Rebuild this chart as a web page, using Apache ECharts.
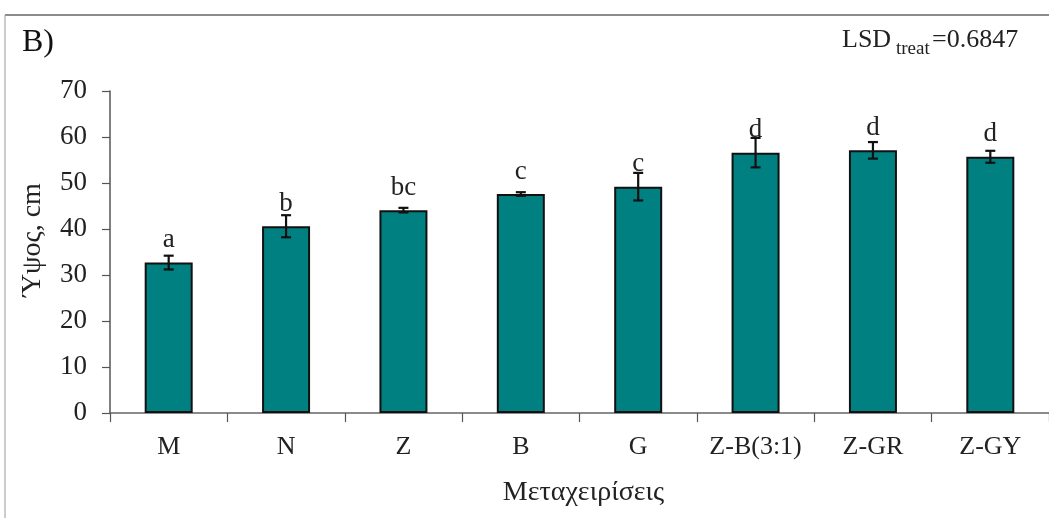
<!DOCTYPE html>
<html>
<head>
<meta charset="utf-8">
<script src="https://cdn.jsdelivr.net/npm/echarts@6/dist/echarts.min.js"></script>
<style>html,body{margin:0;padding:0;background:#fff}#c{width:1049px;height:518px}</style>
</head>
<body>
<div id="c"></div>
<script>
var categories = ['M', 'N', 'Z', 'B', 'G', 'Z-B(3:1)', 'Z-GR', 'Z-GY'];
var heights = [32.7, 40.6, 44.1, 47.6, 49.2, 56.6, 57.1, 55.7];
var errors = [1.5, 2.4, 0.5, 0.4, 3.0, 3.2, 1.8, 1.3];
var letters = ['a', 'b', 'bc', 'c', 'c', 'd', 'd', 'd'];
var yTicks = [0, 10, 20, 30, 40, 50, 60, 70];

var FONT = '"Liberation Serif", "DejaVu Serif", serif';
var chart = echarts.init(document.getElementById('c'), null, {renderer: 'canvas'});

var errData = heights.map(function (h, i) { return [i, h - errors[i], h + errors[i]]; });

chart.setOption({
  animation: false,
  backgroundColor: '#fff',
  grid: {left: 110, right: 0, top: 91, bottom: 105, containLabel: false},
  xAxis: {
    type: 'category',
    data: categories,
    name: 'Μεταχειρίσεις',
    nameLocation: 'middle',
    nameGap: 66,
    nameTextStyle: {fontFamily: FONT, fontSize: 28, color: '#222', padding: [0, 0, 0, 8]},
    axisLine: {lineStyle: {color: '#666', width: 1.5}},
    axisTick: {show: true, interval: 0, length: 9, alignWithLabel: false, lineStyle: {color: '#555', width: 1.2}},
    axisLabel: {interval: 0, fontFamily: FONT, fontSize: 26, color: '#222', margin: 21}
  },
  yAxis: {
    type: 'value',
    min: 0, max: 70, interval: 10,
    name: 'Ύψος, cm',
    nameLocation: 'middle',
    nameGap: 63,
    nameRotate: 90,
    nameTextStyle: {fontFamily: FONT, fontSize: 28, color: '#222', padding: [0, 0, 0, 24]},
    axisLine: {show: true, lineStyle: {color: '#555', width: 1.5}},
    axisTick: {show: true, length: 8, lineStyle: {color: '#555', width: 1.2}},
    axisLabel: {fontFamily: FONT, fontSize: 27, color: '#222', margin: 23,
      formatter: function (v) { return yTicks.indexOf(v) >= 0 ? String(v) : ''; }},
    splitLine: {show: false}
  },
  series: [
    {
      type: 'bar',
      data: heights,
      barWidth: 48,
      itemStyle: {color: '#008080', borderColor: '#111', borderWidth: 2},
      label: {
        show: true, position: 'top', distance: 9,
        fontFamily: FONT, fontSize: 27, color: '#222',
        formatter: function (p) { return letters[p.dataIndex]; }
      }
    },
    {
      type: 'custom',
      data: errData,
      z: 10,
      renderItem: function (params, api) {
        var i = api.value(0);
        var lo = api.coord([i, api.value(1)]);
        var hi = api.coord([i, api.value(2)]);
        var w = 5;
        var st = {stroke: '#111', lineWidth: 2.2};
        return {type: 'group', children: [
          {type: 'line', shape: {x1: lo[0], y1: lo[1], x2: hi[0], y2: hi[1]}, style: st},
          {type: 'line', shape: {x1: lo[0] - w, y1: lo[1], x2: lo[0] + w, y2: lo[1]}, style: st},
          {type: 'line', shape: {x1: hi[0] - w, y1: hi[1], x2: hi[0] + w, y2: hi[1]}, style: st}
        ]};
      }
    }
  ],
  graphic: [
    {type: 'line', shape: {x1: 5, y1: 15, x2: 1049, y2: 15}, style: {stroke: '#666', lineWidth: 1.5}},
    {type: 'line', shape: {x1: 5, y1: 15, x2: 5, y2: 518}, style: {stroke: '#aaa', lineWidth: 1.2}},
    {type: 'text', x: 22, y: 27, style: {text: 'B)', font: '32px ' + FONT, fill: '#111'}},
    {type: 'text', x: 842, y: 53, style: {text: 'LSD', font: '26px ' + FONT, fill: '#222', verticalAlign: 'bottom'}},
    {type: 'text', x: 896, y: 59, style: {text: 'treat', font: '19px ' + FONT, fill: '#222', verticalAlign: 'bottom'}},
    {type: 'text', x: 932, y: 53, style: {text: '=0.6847', font: '26px ' + FONT, fill: '#222', verticalAlign: 'bottom'}}
  ]
});
</script>
</body>
</html>
